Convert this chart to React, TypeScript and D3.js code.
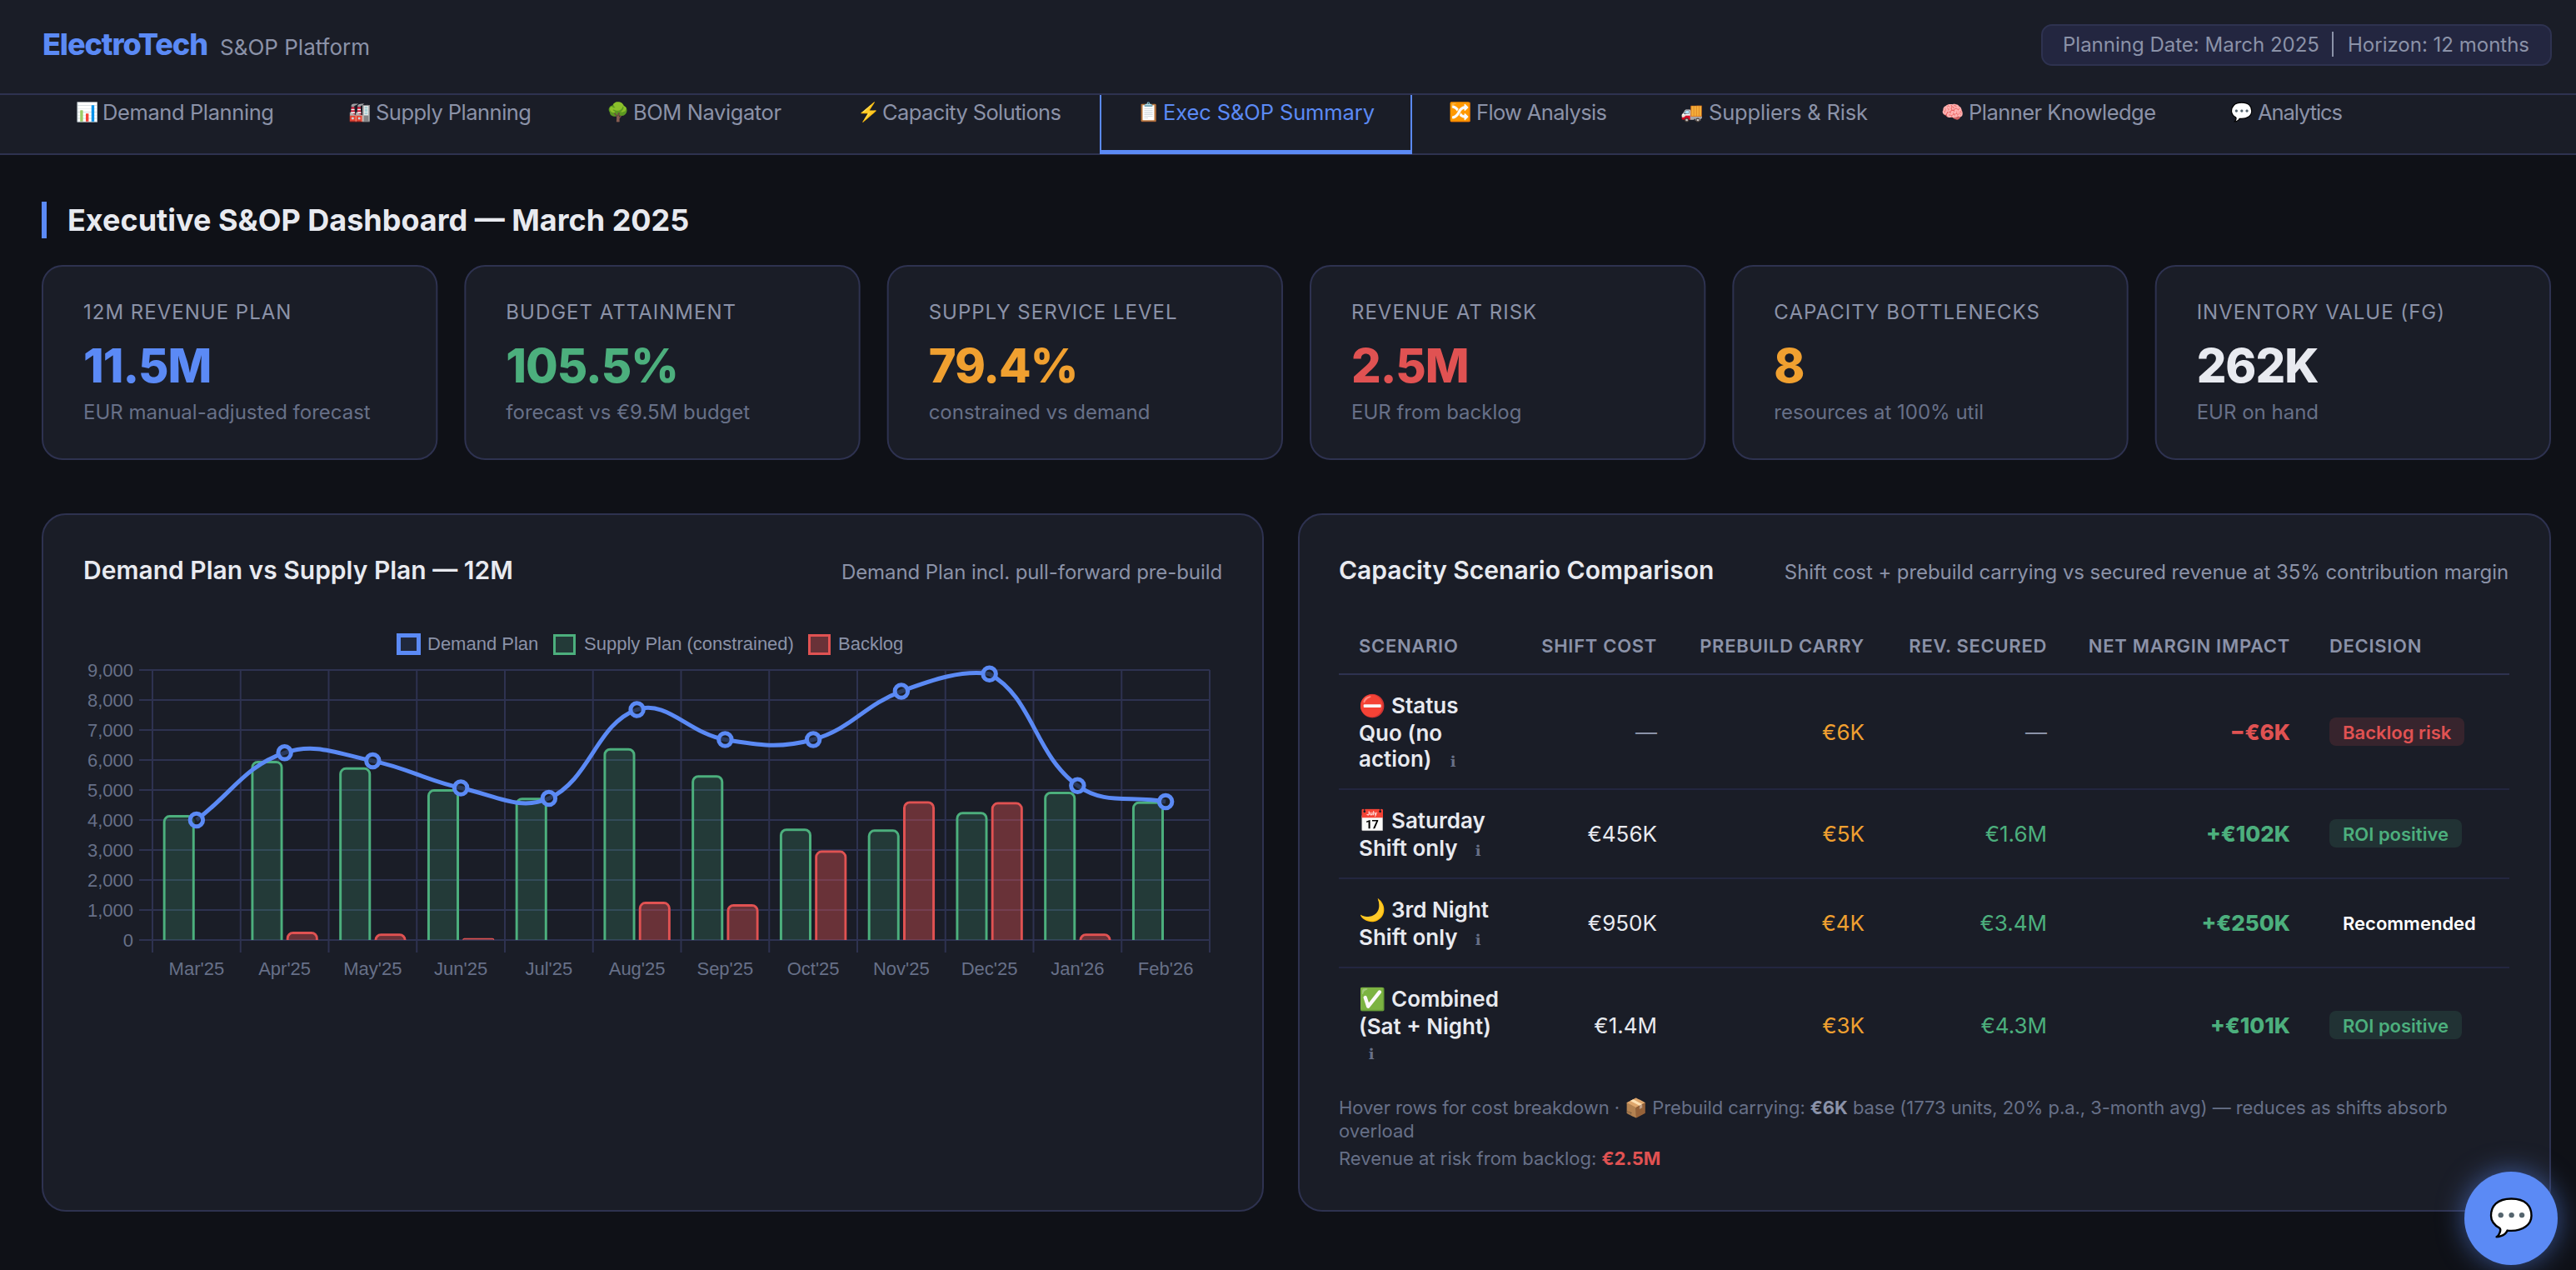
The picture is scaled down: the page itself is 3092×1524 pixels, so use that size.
import React from "react";
import * as d3 from "d3";

const months = ["Mar'25","Apr'25","May'25","Jun'25","Jul'25","Aug'25","Sep'25","Oct'25","Nov'25","Dec'25","Jan'26","Feb'26"];
const demandPlan = [4000,6240,5970,5070,4720,7680,6680,6680,8290,8870,5145,4610];
const supplyPlan = [4165,5975,5755,5025,4745,6395,5495,3715,3685,4270,4945,4615];
const backlog = [0,280,215,60,0,1275,1195,2985,4625,4595,215,0];
const yTicks = [0,1000,2000,3000,4000,5000,6000,7000,8000,9000];

const tabEmoji = ["📊","🏭","🌳","⚡","📋","🔀","🚚","🧠","💬"];
const tabLabels = ["Demand Planning","Supply Planning","BOM Navigator","Capacity Solutions","Exec S&OP Summary","Flow Analysis","Suppliers & Risk","Planner Knowledge","Analytics"];
const tabX = [91,418,728,1029,1365,1739,2017,2330,2677];
const tabTextX = [123,451,760,1059,1396,1772,2051,2363,2710];
const tabTextW = [206,187,178,215,254,157,191,225,102];

const kpiLabels = ["12M REVENUE PLAN","BUDGET ATTAINMENT","SUPPLY SERVICE LEVEL","REVENUE AT RISK","CAPACITY BOTTLENECKS","INVENTORY VALUE (FG)"];
const kpiValues = ["11.5M","105.5%","79.4%","2.5M","8","262K"];
const kpiSubs = ["EUR manual-adjusted forecast","forecast vs €9.5M budget","constrained vs demand","EUR from backlog","resources at 100% util","EUR on hand"];

const BLUE = "#5b8af5", GREEN = "#4caf7d", AMBER = "#f0a030", RED = "#e05252", WHITE = "#e8eaf0";
const MUTED = "#8b92a8", DIM = "#677088", BORDER = "#2e3250", PANEL = "#1a1d27", BG = "#0f1117";
const kpiColors = [BLUE, GREEN, AMBER, RED, AMBER, WHITE];

const headers = ["SCENARIO","SHIFT COST","PREBUILD CARRY","REV. SECURED","NET MARGIN IMPACT","DECISION"];
const scenarioLines = [["⛔","Status","Quo (no","action)"],["📅","Saturday","Shift only"],["🌙","3rd Night","Shift only"],["✅","Combined","(Sat + Night)",""]];
const shiftCost = ["—","€456K","€950K","€1.4M"];
const prebuild = ["€6K","€5K","€4K","€3K"];
const revSecured = ["—","€1.6M","€3.4M","€4.3M"];
const netMargin = ["−€6K","+€102K","+€250K","+€101K"];
const decision = ["Backlog risk","ROI positive","Recommended","ROI positive"];

const UI = "Inter, sans-serif";
const CH = "'Liberation Sans', Arial, sans-serif";

const W = 3092, H = 1524;
const plot = { l: 183, r: 1452, t: 804, b: 1128 };

function splinePath(pts: [number, number][], t: number) {
  const cap = (v: number, a: number, b: number) => Math.max(a, Math.min(b, v));
  const cps = pts.map((c, i) => {
    const p = pts[i - 1] || c, n = pts[i + 1] || c;
    const d1 = Math.hypot(c[0] - p[0], c[1] - p[1]), d2 = Math.hypot(n[0] - c[0], n[1] - c[1]);
    const s = d1 + d2, fa = t * d1 / s, fb = t * d2 / s;
    return {
      px: cap(c[0] - fa * (n[0] - p[0]), plot.l, plot.r), py: cap(c[1] - fa * (n[1] - p[1]), plot.t, plot.b),
      nx: cap(c[0] + fb * (n[0] - p[0]), plot.l, plot.r), ny: cap(c[1] + fb * (n[1] - p[1]), plot.t, plot.b),
    };
  });
  const path = d3.path();
  pts.forEach((c, i) => {
    if (i === 0) path.moveTo(c[0], c[1]);
    else path.bezierCurveTo(cps[i - 1].nx, cps[i - 1].ny, cps[i].px, cps[i].py, c[0], c[1]);
  });
  return path.toString();
}

function topRounded(x0: number, x1: number, top: number, bottom: number, r: number) {
  const rr = Math.max(0, Math.min(r, bottom - top, (x1 - x0) / 2));
  const p = d3.path();
  p.moveTo(x0, bottom);
  p.lineTo(x0, top + rr);
  p.arcTo(x0, top, x0 + rr, top, rr);
  p.lineTo(x1 - rr, top);
  p.arcTo(x1, top, x1, top + rr, rr);
  p.lineTo(x1, bottom);
  p.closePath();
  return p.toString();
}

function Bar({ x0, w, v, y, color, alpha }: any) {
  const top = y(v), base = y(0), h = base - top;
  if (h <= 0) return null;
  const bw = Math.min(3, h / 2);
  const outer = topRounded(x0, x0 + w, top, base, 8);
  const inner = topRounded(x0 + bw, x0 + w - bw, top + bw, base, Math.max(0, 8 - bw));
  return (
    <g>
      <path d={inner} fill={color} fillOpacity={alpha} />
      <path d={outer + inner} fill={color} fillRule="evenodd" />
    </g>
  );
}

function T({ x, y, size, fill, weight = 400, anchor = "start", font = UI, ls = 0, tl, children }: any) {
  return (
    <text x={x} y={y} fontSize={size} fill={fill} fontWeight={weight} textAnchor={anchor} fontFamily={font} letterSpacing={ls}
      textLength={tl} lengthAdjust={tl ? "spacing" : undefined}>
      {children}
    </text>
  );
}

function Panel({ x, y, w, h, r }: any) {
  return <rect x={x + 1} y={y + 1} width={w - 2} height={h - 2} rx={r} fill={PANEL} stroke={BORDER} strokeWidth={2} />;
}

function Chart() {
  const x = d3.scaleBand().domain(months).range([plot.l, plot.r]);
  const y = d3.scaleLinear().domain([0, 9000]).range([plot.b, plot.t]);
  const step = x.step();
  const edges = d3.range(13).map((i) => plot.l + i * step);
  const barW = step * 0.8 * 0.9 / 2;
  const gap = step * 0.8 / 2;
  const center = (m: string) => (x(m) as number) + step / 2;
  const pts = months.map((m, i) => [center(m), y(demandPlan[i])] as [number, number]);
  return (
    <g>
      {yTicks.map((t) => (
        <g key={t}>
          <line x1={167} x2={plot.r} y1={y(t)} y2={y(t)} stroke={BORDER} strokeWidth={2} />
          <T x={160} y={y(t) + 8} size={22} fill={DIM} anchor="end" font={CH}>{d3.format(",")(t)}</T>
        </g>
      ))}
      {edges.map((e, i) => (
        <line key={i} x1={e} x2={e} y1={plot.t} y2={1143} stroke={BORDER} strokeWidth={2} />
      ))}
      {months.map((m, i) => (
        <g key={m}>
          <Bar x0={center(m) - gap + (gap - barW) / 2} w={barW} v={supplyPlan[i]} y={y} color={GREEN} alpha={0.2} />
          <Bar x0={center(m) + (gap - barW) / 2} w={barW} v={backlog[i]} y={y} color={RED} alpha={0.4} />
          <T x={center(m)} y={1170} size={22} fill={DIM} anchor="middle" font={CH}>{m}</T>
        </g>
      ))}
      <path d={splinePath(pts, 0.4)} fill="none" stroke={BLUE} strokeWidth={5} />
      {pts.map((p, i) => (
        <circle key={i} cx={p[0]} cy={p[1]} r={7.75} fill={PANEL} fillOpacity={0.75} stroke={BLUE} strokeWidth={5} />
      ))}
      <rect x={478.5} y={762.5} width={24} height={21} fill={BLUE} fillOpacity={0.1} stroke={BLUE} strokeWidth={5} />
      <T x={513} y={780} size={22} fill={MUTED} font={CH}>Demand Plan</T>
      <rect x={665.5} y={762.5} width={24} height={22} fill={GREEN} fillOpacity={0.2} stroke={GREEN} strokeWidth={3} />
      <T x={701} y={780} size={22} fill={MUTED} font={CH}>Supply Plan (constrained)</T>
      <rect x={971.5} y={762.5} width={24} height={22} fill={RED} fillOpacity={0.4} stroke={RED} strokeWidth={3} />
      <T x={1006} y={780} size={22} fill={MUTED} font={CH}>Backlog</T>
    </g>
  );
}

function Table() {
  const rights = [1989, 2238, 2457, 2749];
  const lineY = [947, 1054, 1161];
  const nameY = [[856, 889, 920], [994, 1027], [1101, 1134], [1208, 1241, 1271]];
  const valueY = [888, 1010, 1117, 1240];
  const infoPos = [[1744, 920], [1774, 1027], [1774, 1134], [1646, 1271]];
  const badgeW = [162, 159, 0, 159];
  const badgeColor = [RED, GREEN, "#ffffff", GREEN];
  const cols = [shiftCost, prebuild, revSecured];
  const colFill = [WHITE, AMBER, GREEN];
  return (
    <g>
      <T x={1631} y={783} size={22} fill={MUTED} weight={600} ls={0.7}>{headers[0]}</T>
      {rights.map((r, i) => (
        <T key={i} x={r} y={783} size={22} fill={MUTED} weight={600} ls={0.7} anchor="end">{headers[i + 1]}</T>
      ))}
      <T x={2796} y={783} size={22} fill={MUTED} weight={600} ls={0.7}>{headers[5]}</T>
      <line x1={1607} x2={3012} y1={809} y2={809} stroke={BORDER} strokeWidth={2} />
      {lineY.map((ly) => (
        <line key={ly} x1={1607} x2={3012} y1={ly} y2={ly} stroke="#232640" strokeWidth={2} />
      ))}
      {scenarioLines.map((row, i) => (
        <g key={i}>
          <T x={1631} y={nameY[i][0]} size={26} fill={WHITE} font={UI}>{row[0]}</T>
          {row.slice(1).map((s, j) => s && (
            <T key={j} x={j === 0 ? 1670 : 1631} y={nameY[i][j]} size={26} fill={WHITE} weight={600}>{s}</T>
          ))}
          <T x={infoPos[i][0]} y={infoPos[i][1]} size={18} fill={DIM} font="'DejaVu Sans', sans-serif" anchor="middle">ℹ</T>
          {cols.map((c, k) => (
            <T key={k} x={rights[k]} y={valueY[i]} size={26} anchor="end" fill={c[i] === "—" ? MUTED : colFill[k]}>{c[i]}</T>
          ))}
          <T x={rights[3]} y={valueY[i]} size={26} anchor="end" weight={800} fill={i === 0 ? RED : GREEN}>{netMargin[i]}</T>
          {badgeW[i] > 0 && (
            <rect x={2796} y={valueY[i] - 27} width={badgeW[i]} height={34} rx={8} fill={badgeColor[i]} fillOpacity={0.15} />
          )}
          <T x={2812} y={valueY[i] - 1} size={22} weight={600} fill={badgeColor[i]}>{decision[i]}</T>
        </g>
      ))}
      <text x={1607} y={1337} fontSize={22} fill={DIM} fontFamily={UI} letterSpacing={-0.06}>
        Hover rows for cost breakdown · 📦 Prebuild carrying: <tspan fontWeight={700} fill={MUTED}>€6K</tspan> base (1773 units, 20% p.a., 3-month avg) — reduces as shifts absorb
      </text>
      <T x={1607} y={1365} size={22} fill={DIM}>overload</T>
      <text x={1607} y={1398} fontSize={22} fill={DIM} fontFamily={UI}>
        Revenue at risk from backlog: <tspan fontWeight={700} fill={RED}>€2.5M</tspan>
      </text>
    </g>
  );
}

export default function App() {
  React.useEffect(() => {
    document.body.style.margin = "0";
    document.body.style.background = BG;
  }, []);
  const kw = (3012 - 160) / 6;
  return (
    <svg width={W} height={H} viewBox={`0 0 ${W} ${H}`} style={{ position: "fixed", left: 0, top: 0, display: "block" }}>
      <rect width={W} height={H} fill={BG} />
      <rect width={W} height={186} fill={PANEL} />
      <rect y={112} width={W} height={2} fill={BORDER} />
      <rect y={184} width={W} height={2} fill={BORDER} />
      <T x={51} y={66} size={36} weight={800} fill={BLUE} ls={-1.1}>ElectroTech</T>
      <T x={264} y={66} size={26} fill={MUTED}>S&amp;OP Platform</T>
      <rect x={2451} y={30} width={611} height={48} rx={12} fill="#232640" stroke={BORDER} strokeWidth={2} />
      <T x={2476} y={62} size={24} fill={MUTED}>Planning Date: March 2025</T>
      <rect x={2799} y={38} width={2} height={30} fill={MUTED} />
      <T x={2818} y={62} size={24} fill={MUTED}>Horizon: 12 months</T>

      <path d="M1321,114V184H1694V114" fill="none" stroke={BLUE} strokeWidth={2} />
      <rect x={1322} y={180} width={371} height={4} fill={BLUE} />
      {tabLabels.map((t, i) => (
        <g key={t}>
          <T x={tabX[i]} y={142} size={22} fill={i === 4 ? BLUE : MUTED}>{tabEmoji[i]}</T>
          <T x={tabTextX[i]} y={144} size={25.5} tl={tabTextW[i]} fill={i === 4 ? BLUE : MUTED}>{t}</T>
        </g>
      ))}

      <rect x={50} y={242} width={6} height={44} fill={BLUE} />
      <T x={81} y={277} size={36} weight={700} fill={WHITE}>Executive S&amp;OP Dashboard — March 2025</T>

      {kpiLabels.map((l, i) => {
        const cx = 50 + i * (kw + 32);
        return (
          <g key={l}>
            <Panel x={cx} y={318} w={kw} h={234} r={24} />
            <T x={cx + 50} y={383} size={24} fill={MUTED} ls={1}>{l}</T>
            <T x={cx + 50} y={459} size={56} weight={800} fill={kpiColors[i]} ls={-1}>{kpiValues[i]}</T>
            <T x={cx + 50} y={503} size={24} fill={DIM}>{kpiSubs[i]}</T>
          </g>
        );
      })}

      <Panel x={50} y={616} w={1467} h={838} r={28} />
      <Panel x={1558} y={616} w={1504} h={838} r={28} />
      <T x={100} y={695} size={30} weight={600} fill={WHITE}>Demand Plan vs Supply Plan — 12M</T>
      <T x={1467} y={695} size={24} fill={MUTED} anchor="end" ls={-0.08}>Demand Plan incl. pull-forward pre-build</T>
      <T x={1607} y={695} size={30} weight={600} fill={WHITE}>Capacity Scenario Comparison</T>
      <T x={3011} y={695} size={24} fill={MUTED} anchor="end" ls={-0.08}>Shift cost + prebuild carrying vs secured revenue at 35% contribution margin</T>
      <Chart />
      <Table />

      <circle cx={3014} cy={1462} r={56} fill={BLUE} style={{ filter: "drop-shadow(0 0 16px rgba(91,138,245,0.55))" }} />
      <T x={3014} y={1476} size={44} anchor="middle" fill="#fff">💬</T>
    </svg>
  );
}
